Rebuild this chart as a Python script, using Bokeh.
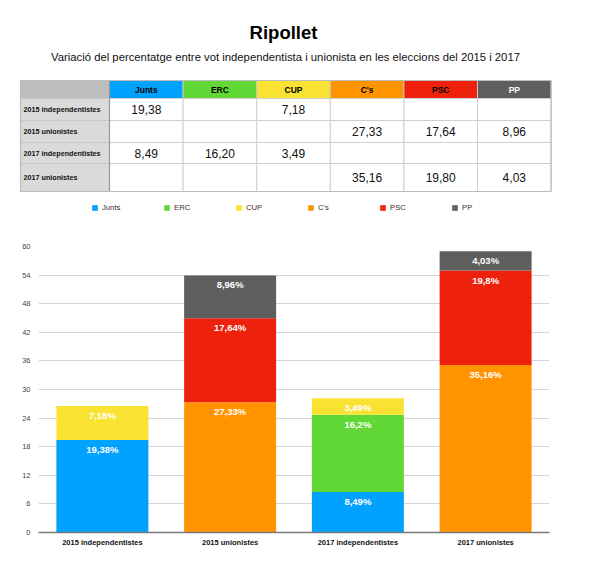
from bokeh.plotting import figure
from bokeh.models import (ColumnDataSource, Range1d, FactorRange, Legend, LegendItem)
from bokeh.layouts import column
from bokeh.embed import file_html
from bokeh.resources import INLINE
from bokeh.core.properties import value

# ---------------- data ----------------
title = "Ripollet"
subtitle = "Variació del percentatge entre vot independentista i unionista en les eleccions del 2015 i 2017"
categories = ["2015 independentistes", "2015 unionistes", "2017 independentistes", "2017 unionistes"]
parties = ["Junts", "ERC", "CUP", "C's", "PSC", "PP"]
colors = ["#00A2FF", "#61D836", "#FAE232", "#FF9300", "#EE220C", "#5E5E5E"]
junts = [19.38, 0, 8.49, 0]
erc = [0, 0, 16.20, 0]
cup = [7.18, 0, 3.49, 0]
cs = [0, 27.33, 0, 35.16]
psc = [0, 17.64, 0, 19.80]
pp = [0, 8.96, 0, 4.03]
y_ticks = [0, 6, 12, 18, 24, 30, 36, 42, 48, 54, 60]

series = [junts, erc, cup, cs, psc, pp]
FONT = value("Liberation Sans")

# ---------------- top figure: titles, table, legend ----------------
W = 584
HA = 226
pA = figure(width=W, height=HA, x_range=Range1d(0, W), y_range=Range1d(HA, 0),
            output_backend="svg", toolbar_location=None, min_border=0,
            x_axis_location=None, y_axis_location=None)
pA.frame_align = False
pA.grid.visible = False
pA.outline_line_color = None

pA.text(x=[283], y=[32], text=[title], text_align="center", text_baseline="alphabetic",
        text_font=FONT, text_font_style="bold", text_font_size="18.5px", text_color="#000000")
pA.text(x=[285], y=[56.5], text=[subtitle], text_align="center", text_baseline="alphabetic",
        text_font=FONT, text_font_size="11.3px", text_color="#111111")

# table layout
T_LEFT = 20
LAB_W = 89
COL_W = 73.6
row_edges = [80, 98, 120, 142, 163, 191]

col_left = [T_LEFT + LAB_W + j * COL_W for j in range(len(parties))]
col_right = [l + COL_W for l in col_left]
col_mid = [l + COL_W / 2 for l in col_left]

# corner cell
pA.quad(left=[T_LEFT], right=[T_LEFT + LAB_W], top=[row_edges[0]], bottom=[row_edges[1]],
        fill_color="#BEBEBE", line_color="#B0B0B0", line_width=1)
# header cells
pA.quad(left=col_left, right=col_right, top=[row_edges[0]] * 6, bottom=[row_edges[1]] * 6,
        fill_color=colors, line_color="#C8C8C8", line_width=1)
hdr_y = (row_edges[0] + row_edges[1]) / 2
pA.text(x=col_mid, y=[hdr_y] * 6, text=parties, text_align="center", text_baseline="middle",
        text_font=FONT, text_font_style="bold", text_font_size="8.5px",
        text_color=["#000000"] * 5 + ["#FFFFFF"])

# row label cells + value cells
n = len(categories)
r_top = [row_edges[i + 1] for i in range(n)]
r_bot = [row_edges[i + 2] for i in range(n)]
r_mid = [(a + b) / 2 for a, b in zip(r_top, r_bot)]
pA.quad(left=[T_LEFT] * n, right=[T_LEFT + LAB_W] * n, top=r_top, bottom=r_bot,
        fill_color="#DADADA", line_color="#C8C8C8", line_width=1)
pA.text(x=[T_LEFT + 3] * n, y=r_mid, text=categories, text_align="left", text_baseline="middle",
        text_font=FONT, text_font_style="bold", text_font_size="7.2px", text_color="#111111")

cl, cr, ct, cb, vx, vy, vt = [], [], [], [], [], [], []
for i in range(n):
    for j in range(len(parties)):
        cl.append(col_left[j]); cr.append(col_right[j]); ct.append(r_top[i]); cb.append(r_bot[i])
        v = series[j][i]
        if v:
            vx.append(col_mid[j]); vy.append(r_mid[i]); vt.append(f"{v:.2f}".replace(".", ","))
pA.quad(left=cl, right=cr, top=ct, bottom=cb, fill_color="#FFFFFF", line_color="#CFCFCF", line_width=1)
pA.text(x=vx, y=vy, text=vt, text_align="center", text_baseline="middle",
        text_font=FONT, text_font_size="12px", text_color="#111111")
# separator line right of label column and outer border
pA.segment(x0=[T_LEFT + LAB_W], y0=[row_edges[0]], x1=[T_LEFT + LAB_W], y1=[row_edges[-1]],
           line_color="#9A9A9A", line_width=1.2)
pA.quad(left=[T_LEFT], right=[col_right[-1]], top=[row_edges[0]], bottom=[row_edges[-1]],
        fill_color=None, line_color="#BDBDBD", line_width=1.2)

# legend (zero-size helper renderers, only their legend glyphs show)
items = []
for party, c in zip(parties, colors):
    r = pA.vbar(x=[0], top=[0], bottom=[0], width=0, fill_color=c, line_color=None)
    items.append(LegendItem(label=party, renderers=[r]))
leg = Legend(items=items, orientation="horizontal", location=(91, 14),
             glyph_width=7, glyph_height=7, label_standoff=4, label_width=55, label_height=8,
             spacing=6, padding=0, margin=0, border_line_color=None, background_fill_alpha=0,
             label_text_font="Liberation Sans", label_text_font_size="7.7px",
             label_text_color="#333333", label_text_baseline="middle")
pA.add_layout(leg)

# ---------------- bottom figure: stacked bars ----------------
HB = 338
src = ColumnDataSource(dict(cat=categories, **{p: s for p, s in zip(parties, series)}))
pB = figure(x_range=FactorRange(*categories), y_range=Range1d(0, 60), width=W, height=HB,
            output_backend="svg", toolbar_location=None,
            min_border_left=38, min_border_right=35, min_border_top=20, min_border_bottom=32)
pB.frame_align = False
pB.vbar_stack(parties, x="cat", width=0.72, color=colors, line_color=None, source=src)

lx, ly, lt = [], [], []
for i, c in enumerate(categories):
    cum = 0
    for j in range(len(parties)):
        v = series[j][i]
        cum += v
        if v:
            lx.append(c); ly.append(cum)
            lt.append(f"{v:.2f}".rstrip("0").rstrip(".").replace(".", ",") + "%")
lab_src = ColumnDataSource(dict(x=lx, y=ly, t=lt))
pB.text(x="x", y="y", text="t", source=lab_src, text_align="center", text_baseline="top",
        y_offset=4, text_font=FONT, text_font_style="bold", text_font_size="9.5px",
        text_color="#FFFFFF")

pB.yaxis.ticker = y_ticks
pB.yaxis.axis_line_color = None
pB.yaxis.major_tick_line_color = None
pB.yaxis.minor_tick_line_color = None
pB.yaxis.major_tick_out = 0
pB.yaxis.minor_tick_out = 0
pB.yaxis.major_label_standoff = 8
pB.yaxis.major_label_text_font = "Liberation Sans"
pB.yaxis.major_label_text_font_size = "7.5px"
pB.yaxis.major_label_text_color = "#444444"

pB.xaxis.axis_line_color = "#7A7A7A"
pB.xaxis.axis_line_width = 1.5
pB.xaxis.major_tick_line_color = None
pB.xaxis.minor_tick_line_color = None
pB.xaxis.major_tick_out = 0
pB.xaxis.minor_tick_out = 0
pB.xaxis.major_label_standoff = 5
pB.xaxis.major_label_text_font = "Liberation Sans"
pB.xaxis.major_label_text_font_size = "7.5px"
pB.xaxis.major_label_text_font_style = "bold"
pB.xaxis.major_label_text_color = "#111111"

pB.xgrid.grid_line_color = None
pB.ygrid.grid_line_color = "#D6D6D6"
pB.ygrid.grid_line_width = 1.2
pB.outline_line_color = None

layout = column(pA, pB, spacing=0)
open("out.html", "w").write(file_html(layout, INLINE))
